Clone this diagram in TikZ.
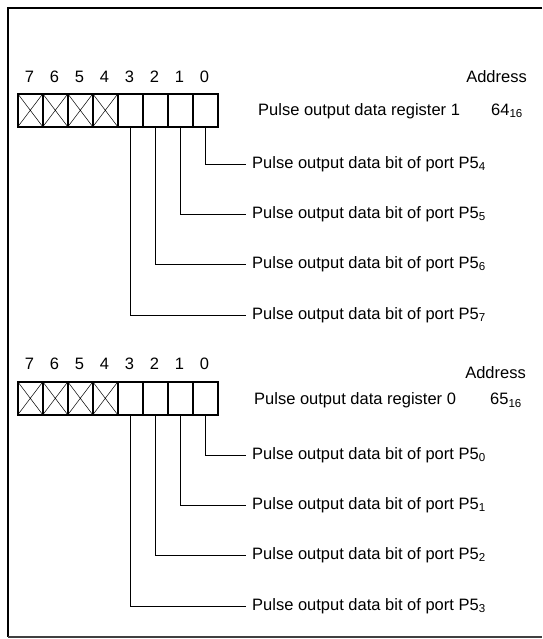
\documentclass[tikz,border=0pt]{standalone}
\usepackage{fontspec}
\setmainfont{Liberation Sans}
\newcommand{\mysub}[1]{\textsubscript{#1}}
\begin{document}
\begin{tikzpicture}[x=1pt,y=-1pt,
  cell/.style={draw, line width=1.6pt, minimum width=25pt, minimum height=33pt, inner sep=0pt, anchor=north west},
  xcell/.style={cell, path picture={\draw[line width=0.5pt]
      (path picture bounding box.north west) -- (path picture bounding box.south east)
      (path picture bounding box.south west) -- (path picture bounding box.north east);}},
  lbl/.style={font=\fontsize{16.5}{19}\selectfont, inner sep=0pt},
  bittext/.style={lbl, anchor=west, inner xsep=6pt},
  wire/.style={line width=0.7pt},
  frame/.style={line width=2pt}]
\useasboundingbox (0,0) rectangle (542,639);
% frame
\coordinate (ftl) at (8,8);
\coordinate (ftr) at (542,8);
\coordinate (fbl) at (8,637);
\coordinate (fbr) at (542,637);
\draw[frame] (ftr) -- (ftl) -- (fbl);
\draw[line width=1.5pt, black!75] (fbl) -- (fbr);

% ---------- register 1 ----------
\foreach \i in {4,...,7} \node[xcell] (ra\i) at ({17+25*(7-\i)}, 93) {};
\foreach \i in {0,...,3} \node[cell] (ra\i) at ({17+25*(7-\i)}, 93) {};
\foreach \i in {0,...,7} \node[lbl] (ran\i) at ({29.5+25*(7-\i)}, 77) {\i};
\node[lbl, anchor=east] (raaddr) at (527,77) {Address};
\node[lbl, anchor=west] (raname) at (258,111) {Pulse output data register 1};
\node[lbl, anchor=west] (raval) at (491,111) {64\mysub{16}};
\node[bittext] (rat0) at (246,164) {Pulse output data bit of port P5\mysub{4}};
\node[bittext] (rat1) at (246,214) {Pulse output data bit of port P5\mysub{5}};
\node[bittext] (rat2) at (246,264) {Pulse output data bit of port P5\mysub{6}};
\node[bittext] (rat3) at (246,315) {Pulse output data bit of port P5\mysub{7}};
\foreach \i in {0,...,3} \draw[wire] (ra\i.south) |- (rat\i.west);

% ---------- register 0 ----------
\foreach \i in {4,...,7} \node[xcell] (rb\i) at ({17+25*(7-\i)}, 381) {};
\foreach \i in {0,...,3} \node[cell] (rb\i) at ({17+25*(7-\i)}, 381) {};
\foreach \i in {0,...,7} \node[lbl] (rbn\i) at ({29.5+25*(7-\i)}, 364) {\i};
\node[lbl, anchor=east] (rbaddr) at (526,373) {Address};
\node[lbl, anchor=west] (rbname) at (254,400) {Pulse output data register 0};
\node[lbl, anchor=west] (rbval) at (490,400) {65\mysub{16}};
\node[bittext] (rbt0) at (246,455) {Pulse output data bit of port P5\mysub{0}};
\node[bittext] (rbt1) at (246,505) {Pulse output data bit of port P5\mysub{1}};
\node[bittext] (rbt2) at (246,555) {Pulse output data bit of port P5\mysub{2}};
\node[bittext] (rbt3) at (246,606) {Pulse output data bit of port P5\mysub{3}};
\foreach \i in {0,...,3} \draw[wire] (rb\i.south) |- (rbt\i.west);
\end{tikzpicture}
\end{document}
